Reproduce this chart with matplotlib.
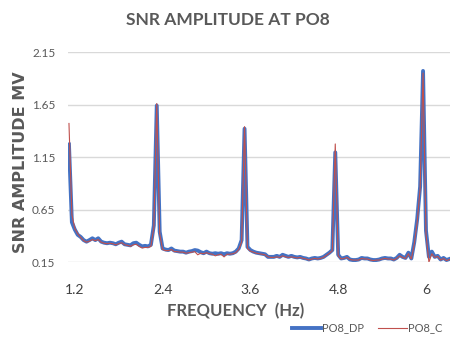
import numpy as np
import matplotlib.pyplot as plt

## Data (frequency grid 1.12 .. 6.32 Hz, step 0.04)

freq = np.round(1.12 + 0.04 * np.arange(131), 2)

po8_dp = [
    1.27, 0.53, 0.46, 0.41, 0.39, 0.36, 0.345, 0.36, 0.377, 0.36,
    0.377, 0.345, 0.335, 0.33, 0.335, 0.33, 0.32, 0.335, 0.345, 0.32,
    0.315, 0.31, 0.33, 0.335, 0.315, 0.30, 0.305, 0.30, 0.315, 0.50,
    1.64, 0.44, 0.28, 0.27, 0.265, 0.28, 0.26, 0.255, 0.25, 0.25,
    0.24, 0.25, 0.255, 0.265, 0.26, 0.245, 0.235, 0.25, 0.235, 0.23,
    0.235, 0.23, 0.235, 0.225, 0.235, 0.23, 0.235, 0.25, 0.28, 0.36,
    1.42, 0.295, 0.265, 0.25, 0.24, 0.235, 0.23, 0.225, 0.20, 0.20,
    0.20, 0.21, 0.20, 0.22, 0.21, 0.20, 0.21, 0.20, 0.195, 0.20,
    0.19, 0.185, 0.175, 0.185, 0.19, 0.185, 0.19, 0.20, 0.22, 0.24,
    0.265, 1.195, 0.22, 0.185, 0.19, 0.20, 0.175, 0.17, 0.17, 0.175,
    0.19, 0.185, 0.185, 0.175, 0.17, 0.17, 0.175, 0.185, 0.19, 0.185,
    0.185, 0.175, 0.19, 0.22, 0.20, 0.19, 0.24, 0.185, 0.34, 0.56,
    0.87, 1.97, 0.45, 0.20, 0.25, 0.20, 0.21, 0.175, 0.19, 0.17,
    0.18,
]

po8_c = [
    1.47, 0.60, 0.47, 0.42, 0.385, 0.355, 0.34, 0.35, 0.365, 0.355,
    0.365, 0.34, 0.33, 0.325, 0.33, 0.325, 0.315, 0.325, 0.335, 0.315,
    0.31, 0.30, 0.315, 0.32, 0.30, 0.285, 0.29, 0.29, 0.30, 0.48,
    1.66, 0.42, 0.27, 0.26, 0.26, 0.27, 0.25, 0.25, 0.245, 0.245,
    0.235, 0.24, 0.245, 0.25, 0.22, 0.235, 0.23, 0.24, 0.23, 0.225,
    0.21, 0.22, 0.225, 0.20, 0.225, 0.225, 0.23, 0.24, 0.27, 0.34,
    1.44, 0.28, 0.255, 0.245, 0.235, 0.23, 0.225, 0.22, 0.20, 0.195,
    0.195, 0.20, 0.195, 0.21, 0.20, 0.195, 0.20, 0.195, 0.19, 0.195,
    0.185, 0.18, 0.17, 0.18, 0.185, 0.18, 0.185, 0.195, 0.215, 0.235,
    0.26, 1.275, 0.21, 0.18, 0.185, 0.195, 0.175, 0.17, 0.17, 0.17,
    0.185, 0.18, 0.18, 0.17, 0.165, 0.17, 0.17, 0.18, 0.185, 0.18,
    0.18, 0.17, 0.185, 0.21, 0.195, 0.185, 0.23, 0.18, 0.32, 0.53,
    0.85, 1.95, 0.42, 0.15, 0.23, 0.195, 0.205, 0.17, 0.185, 0.165,
    0.175,
]

x_ticks = [1.2, 2.4, 3.6, 4.8, 6.0]
x_tick_labels = ['1.2', '2.4', '3.6', '4.8', '6']
y_ticks = [0.15, 0.65, 1.15, 1.65, 2.15]

## Plot

fig = plt.figure(figsize=(4.52, 3.4), dpi=100)
ax = fig.add_axes([0.150, 0.229, 0.846, 0.618])

ax.plot(freq, po8_dp, color='#4472C4', linewidth=2.8, label='PO8_DP')
ax.plot(freq, po8_c, color='#C0504D', linewidth=0.8, label='PO8_C')

ax.set_xlim(1.104, 6.331)
ax.set_ylim(0.15, 2.15)
ax.set_xticks(x_ticks)
ax.set_xticklabels(x_tick_labels, family='Lato', fontsize=10, color='#404040')
ax.set_yticks(y_ticks)
ax.set_yticklabels([f'{v:.2f}' for v in y_ticks], family='Lato', fontsize=8.5, color='#595959')
ax.tick_params(axis='both', length=0)
ax.tick_params(axis='x', pad=16)
ax.tick_params(axis='y', pad=9)

ax.grid(axis='y', color='#D9D9D9', linewidth=1)
ax.set_axisbelow(True)
for s in ax.spines.values():
    s.set_visible(False)

fig.text(228 / 452, 1 - 20 / 340, 'SNR AMPLITUDE AT PO8', ha='center', va='center',
         family='Lato', fontweight='bold', fontsize=12.5, color='#595959')
fig.text(236 / 452, 1 - 311 / 340, 'FREQUENCY  (Hz)', ha='center', va='center',
         family='Lato', fontweight='bold', fontsize=12, color='#595959')
fig.text(21 / 452, 1 - 162 / 340, 'SNR AMPLITUDE MV', ha='center', va='center', rotation=90,
         family='DejaVu Sans', fontweight='bold', fontsize=11.5, color='#595959')

fig.legend(loc='lower right', bbox_to_anchor=(1.0, -0.01), ncol=2, frameon=False,
           handlelength=2.6, columnspacing=1.2, handletextpad=0.1,
           prop={'family': 'Lato', 'size': 8}, labelcolor='#595959')

fig.savefig('out.png', dpi=100)
